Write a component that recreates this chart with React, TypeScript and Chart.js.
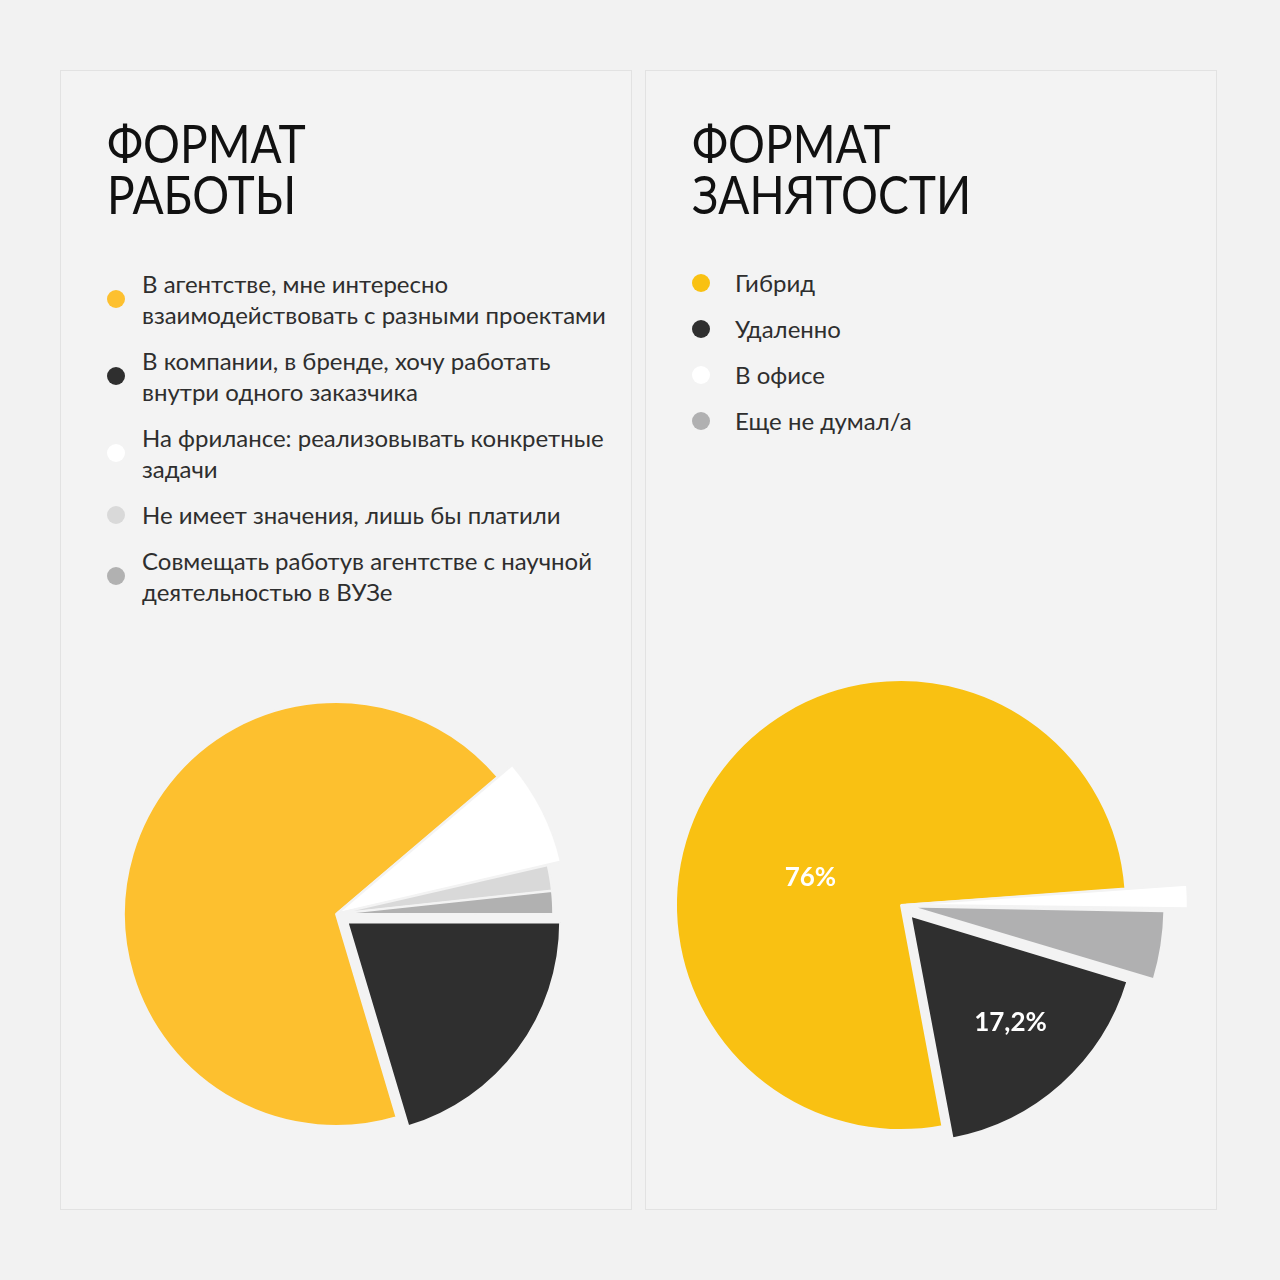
import React, { useEffect, useRef } from 'react';
import { Chart, registerables } from 'chart.js';

Chart.register(...registerables);

// ---------- Data: Формат работы (left) ----------
const workTitle = 'ФОРМАТ\nРАБОТЫ';
const workLabels = [
  'В агентстве, мне интересно\nвзаимодействовать с разными проектами',
  'В компании, в бренде, хочу работать\nвнутри одного заказчика',
  'На фрилансе: реализовывать конкретные\nзадачи',
  'Не имеет значения, лишь бы платили',
  'Совмещать работув агентстве с научной\nдеятельностью в ВУЗе',
];
const workValues = [68.4, 20.4, 7.6, 1.9, 1.7];
const workColors = ['#FDC02F', '#2F2F2F', '#FFFFFF', '#D9D9D9', '#B1B1B1'];
const workDrawOrder = [0, 2, 3, 4, 1]; // clockwise order of slices
const workShowPct = [false, false, false, false, false];

// ---------- Data: Формат занятости (right) ----------
const empTitle = 'ФОРМАТ\nЗАНЯТОСТИ';
const empLabels = ['Гибрид', 'Удаленно', 'В офисе', 'Еще не думал/а'];
const empValues = [76, 17.2, 1.4, 4.4];
const empColors = ['#F9C112', '#2F2F2F', '#FFFFFF', '#B0B0B1'];
const empDrawOrder = [0, 2, 3, 1];
const empShowPct = [true, true, false, false];

// ---------- Styles ----------
const PAGE_BG = '#F2F2F2';
const PANEL_BG = '#F3F3F3';
const FONT = 'Lato, "Noto Sans", sans-serif';

type PieStyle = {
  cx: number;
  cy: number;
  radius: number;
  rotation: number;
  explode: number[]; // px, legend order
  radiusFactor: number[]; // legend order
  labelShift: number[]; // degrees, legend order
  labelRadius: number[]; // fraction of radius, legend order
};

const workStyle: PieStyle = {
  cx: 336,
  cy: 914,
  radius: 212,
  rotation: 163.4,
  explode: [0, 15, 3, 2, 2],
  radiusFactor: [1, 1, 1.075, 1.015, 1.015],
  labelShift: [0, 0, 0, 0, 0],
  labelRadius: [0.5, 0.5, 0.5, 0.5, 0.5],
};

const empStyle: PieStyle = {
  cx: 901,
  cy: 905,
  radius: 225,
  rotation: 169.4,
  explode: [0, 16, 10, 16],
  radiusFactor: [1, 1, 1.23, 1.1],
  labelShift: [-21, -1, 0, 0],
  labelRadius: [0.42, 0.715, 0.5, 0.5],
};

const fmtPct = (v: number) => String(v).replace('.', ',') + '%';

function PieChart({
  labels,
  values,
  colors,
  order,
  showPct,
  st,
}: {
  labels: string[];
  values: number[];
  colors: string[];
  order: number[];
  showPct: boolean[];
  st: PieStyle;
}) {
  const ref = useRef<HTMLCanvasElement | null>(null);
  const SIZE = 620;

  useEffect(() => {
    if (!ref.current) return;
    const total = values.reduce((a, b) => a + b, 0);
    const toOffset = (disp: number, v: number) => {
      const circ = (v / total) * Math.PI * 2;
      const fix = 1 - Math.sin(Math.min(Math.PI, circ));
      return (disp * 4) / (1 + fix);
    };
    const factors = order.map((i) => st.radiusFactor[i]);

    const radiusPlugin = {
      id: 'sliceRadius',
      afterDatasetUpdate(chart: any, args: any) {
        args.meta.data.forEach((arc: any, j: number) => {
          arc.outerRadius = arc.outerRadius * factors[j];
        });
      },
    };

    const pctPlugin = {
      id: 'pctLabels',
      afterDatasetsDraw(chart: any) {
        const meta = chart.getDatasetMeta(0);
        const ctx = chart.ctx;
        ctx.save();
        ctx.fillStyle = '#FFFFFF';
        ctx.font = `bold 26px ${FONT}`;
        ctx.textAlign = 'center';
        ctx.textBaseline = 'middle';
        meta.data.forEach((arc: any, j: number) => {
          const i = order[j];
          if (!showPct[i]) return;
          const mid = (arc.startAngle + arc.endAngle) / 2 + (st.labelShift[i] * Math.PI) / 180;
          const r = st.radius * st.labelRadius[i];
          ctx.fillText(fmtPct(values[i]), arc.x + Math.cos(mid) * r, arc.y + Math.sin(mid) * r);
        });
        ctx.restore();
      },
    };

    const chart = new Chart(ref.current, {
      type: 'pie',
      data: {
        labels: order.map((i) => labels[i]),
        datasets: [
          {
            data: order.map((i) => values[i]),
            backgroundColor: order.map((i) => colors[i]),
            borderColor: PANEL_BG,
            borderWidth: 2,
            offset: order.map((i) => toOffset(st.explode[i], values[i])),
            radius: st.radius,
            rotation: st.rotation,
          } as any,
        ],
      },
      options: {
        responsive: false,
        animation: false,
        rotation: st.rotation,
        radius: st.radius,
        layout: { padding: 0 },
        events: [],
        plugins: {
          legend: { display: false },
          tooltip: { enabled: false },
          title: { display: false },
        },
      } as any,
      plugins: [radiusPlugin, pctPlugin],
    });
    return () => chart.destroy();
  }, []);

  return (
    <canvas
      ref={ref}
      width={SIZE}
      height={SIZE}
      style={{
        position: 'absolute',
        left: st.cx - SIZE / 2,
        top: st.cy - SIZE / 2,
        width: SIZE,
        height: SIZE,
      }}
    />
  );
}

function Panel({ left }: { left: number }) {
  return (
    <div
      style={{
        position: 'absolute',
        left,
        top: 70,
        width: 570,
        height: 1138,
        background: PANEL_BG,
        border: '1px solid #E2E2E2',
      }}
    />
  );
}

function Title({ text, left }: { text: string; left: number }) {
  return (
    <div
      style={{
        position: 'absolute',
        left,
        top: 117,
        fontFamily: FONT,
        fontSize: 53,
        lineHeight: '51px',
        color: '#111111',
        whiteSpace: 'pre-line',
        transform: 'scaleX(0.87)',
        transformOrigin: 'left top',
      }}
    >
      {text}
    </div>
  );
}

function Legend({
  labels,
  colors,
  left,
  top,
  textGap,
}: {
  labels: string[];
  colors: string[];
  left: number;
  top: number;
  textGap: number;
}) {
  return (
    <div
      style={{
        position: 'absolute',
        left,
        top,
        display: 'flex',
        flexDirection: 'column',
        gap: 15,
        fontFamily: FONT,
        fontSize: 24,
        lineHeight: '31px',
        color: '#2E2E2E',
      }}
    >
      {labels.map((l, i) => (
        <div key={i} style={{ display: 'flex', alignItems: 'center' }}>
          <div
            style={{
              width: 18,
              height: 18,
              borderRadius: 9,
              background: colors[i],
              flex: '0 0 18px',
              marginRight: textGap,
            }}
          />
          <div style={{ whiteSpace: 'pre-line' }}>{l}</div>
        </div>
      ))}
    </div>
  );
}

export default function App() {
  return (
    <div
      style={{
        position: 'absolute',
        left: 0,
        top: 0,
        width: 1280,
        height: 1280,
        background: PAGE_BG,
        overflow: 'hidden',
      }}
    >
      <Panel left={60} />
      <Panel left={645} />
      <Title text={workTitle} left={107} />
      <Title text={empTitle} left={692} />
      <Legend labels={workLabels} colors={workColors} left={107} top={268} textGap={17} />
      <Legend labels={empLabels} colors={empColors} left={692} top={267} textGap={25} />
      <PieChart
        labels={workLabels}
        values={workValues}
        colors={workColors}
        order={workDrawOrder}
        showPct={workShowPct}
        st={workStyle}
      />
      <PieChart
        labels={empLabels}
        values={empValues}
        colors={empColors}
        order={empDrawOrder}
        showPct={empShowPct}
        st={empStyle}
      />
    </div>
  );
}
